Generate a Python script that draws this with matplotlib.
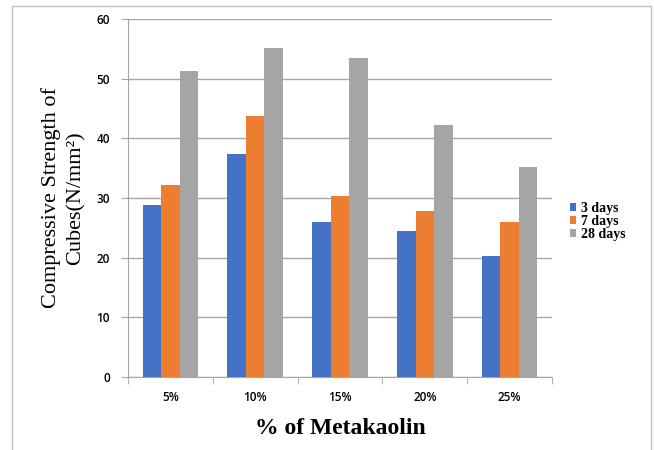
import matplotlib
matplotlib.use("Agg")
import matplotlib.pyplot as plt
from matplotlib.patches import Rectangle
import numpy as np

categories = ["5%", "10%", "15%", "20%", "25%"]
series_names = ["3 days", "7 days", "28 days"]
days3 = [28.8, 37.3, 26.0, 24.4, 20.2]
days7 = [32.1, 43.7, 30.3, 27.9, 25.9]
days28 = [51.3, 55.1, 53.5, 42.3, 35.2]
colors = ["#4472c4", "#ed7d31", "#a5a5a5"]
y_ticks = [0, 10, 20, 30, 40, 50, 60]

plt.rcParams["font.family"] = ["Liberation Serif", "DejaVu Serif"]
tick_font = dict(family=["Open Sans", "DejaVu Sans"], size=8.5, weight="semibold")

fig = plt.figure(figsize=(6.54, 4.5), dpi=100)
fig.patches.append(Rectangle((12 / 654, -0.01), (651 - 12) / 654, 1 - 6 / 450 + 0.01,
                             transform=fig.transFigure, fill=False,
                             edgecolor="#bfbfbf", linewidth=1.0))

ax = fig.add_axes([128 / 654, 1 - 377 / 450, (552 - 128) / 654, (377 - 19) / 450])

x = np.arange(len(categories))
w = 0.218
for i, (vals, name) in enumerate(zip([days3, days7, days28], series_names)):
    ax.bar(x + (i - 1) * w, vals, width=w, color=colors[i], label=name, zorder=3)

ax.set_xlim(-0.5, len(categories) - 0.5)
ax.set_ylim(0, 60)
ax.set_yticks(y_ticks)
ax.set_yticklabels([str(t) for t in y_ticks], **tick_font)
ax.yaxis.grid(True, color="#a6a6a6", linewidth=1.0, zorder=0)
ax.set_xticks(x)
ax.set_xticklabels(categories, **tick_font)
ax.set_xticks(np.arange(-0.5, len(categories), 1.0), minor=True)
ax.tick_params(axis="x", which="major", length=0, pad=10)
ax.tick_params(axis="x", which="minor", length=5, color="#a6a6a6")
ax.tick_params(axis="y", length=5, color="#a6a6a6", pad=8)

for side in ["top", "right"]:
    ax.spines[side].set_visible(False)
for side in ["left", "bottom"]:
    ax.spines[side].set_color("#a6a6a6")

ax.set_ylabel("Compressive Strength of\nCubes(N/mm\u00b2)", fontsize=16, labelpad=8,
              linespacing=1.35)
ax.set_xlabel("% of Metakaolin", fontsize=17, fontweight="bold", labelpad=10)

fig.legend(loc="upper left", bbox_to_anchor=(570 / 654, 1 - 202 / 450), frameon=False,
           prop=dict(family=["Liberation Serif"], size=10, weight="bold"),
           handlelength=0.45, handleheight=0.45, handletextpad=0.35,
           labelspacing=0.0, borderpad=0, borderaxespad=0)

fig.savefig("out.png", dpi=100)
